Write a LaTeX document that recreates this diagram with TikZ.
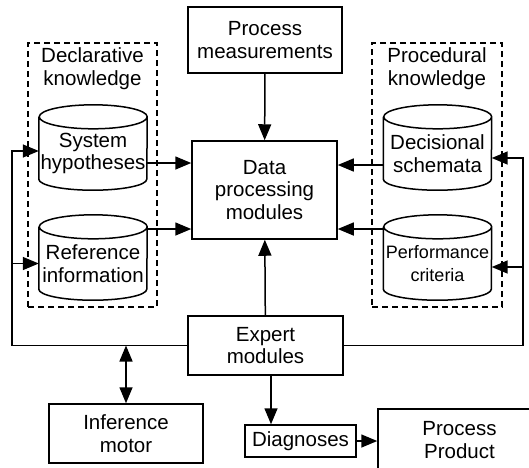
\documentclass[tikz,border=0pt]{standalone}
\usepackage{fontspec}
\setmainfont{Liberation Sans}
\usetikzlibrary{arrows.meta,positioning}

\tikzset{
  block/.style={draw=black,line width=1.5pt,align=center,inner sep=0pt,
    font=\fontsize{20.5}{22.5}\selectfont},
  store/.style={draw=none,align=center,inner sep=0pt,minimum width=108pt,
    minimum height=73pt,font=\fontsize{20.5}{22.5}\selectfont},
  group/.style={draw=black,line width=1.3pt,dash pattern=on 6pt off 4pt},
  tip/.tip={Triangle[length=16pt,width=13pt]},
  arr/.style={line width=1.5pt,-tip},
  dblarr/.style={line width=1.5pt,tip-tip},
}

\begin{document}
\begin{tikzpicture}[x=1pt,y=1pt]
    \useasboundingbox (0,0) rectangle (529,-467);
    \clip (0,0) rectangle (529,-467);

    % knowledge groups
    \node[group,minimum width=129pt,minimum height=264pt] (decl) at (92.5,-175) {};
    \node[group,minimum width=130pt,minimum height=264pt] (proc) at (437,-175) {};
    \node[block,draw=none,anchor=north] at ([yshift=-5pt]decl.north) {Declarative\\knowledge};
    \node[block,draw=none,anchor=north] at ([yshift=-5pt]proc.north) {Procedural\\knowledge};

    % data stores
    \node[store] (hyp) at (93,-153.5) {System\\hypotheses};
    \node[store] (ref) at (93,-263.5) {Reference\\information};
    \node[store] (dec) at (437.5,-153.5) {Decisional\\schemata};
    \node[store,font=\fontsize{18}{22.5}\selectfont] (perf) at (437.5,-263.5) {Performance\\criteria};
    \foreach \n in {hyp,ref,dec,perf}
      \draw[line width=1.5pt] (\n.north west) -- ([yshift=11pt]\n.south west)
        arc[start angle=180,end angle=360,x radius=54pt,y radius=11pt]
        -- (\n.north east)
        arc[start angle=0,end angle=360,x radius=54pt,y radius=12pt];

    % modules
    \node[block,minimum width=154pt,minimum height=66pt] (meas) at (265,-40) {Process\\measurements};
    \node[block,minimum width=145pt,minimum height=98pt] (data) at (264.5,-190) {Data\\processing\\modules};
    \node[block,minimum width=155pt,minimum height=59pt] (expert) at (265.5,-345.5) {Expert\\modules};
    \node[block,minimum width=154pt,minimum height=59pt] (infer) at (126,-433.5) {Inference\\motor};
    \node[block,minimum width=111pt,minimum height=32pt] (diag) at (300.5,-441) {Diagnoses};
    \node[block,minimum width=163pt,minimum height=62pt] (prod) at (459.5,-440) {Process\\Product};

    \coordinate (lrail) at (12,-345.5);
    \coordinate (rrail) at (523,-345.5);

    \draw[arr] (meas) -- (data);
    \draw[arr] (expert) -- (data);
    \draw[arr] ([yshift=-9.5pt]hyp.east) -- ([yshift=-9.5pt]hyp.east -| data.west);
    \draw[arr] ([yshift=34.5pt]ref.east) -- ([yshift=34.5pt]ref.east -| data.west);
    \draw[arr] ([yshift=-11.5pt]dec.west) -- ([yshift=-11.5pt]dec.west -| data.east);
    \draw[arr] ([yshift=34.5pt]perf.west) -- ([yshift=34.5pt]perf.west -| data.east);

    % feedback from the expert modules
    \draw[arr] (expert.west) -- (lrail) |- ([yshift=2.5pt]hyp.west);
    \draw[arr] (lrail |- ref.west) -- (ref.west);
    \draw[arr] (expert.east) -- (rrail) |- ([yshift=-4.5pt]dec.east);
    \draw[arr] ([yshift=-3.5pt]rrail |- perf.east) -- ([yshift=-3.5pt]perf.east);

    \draw[dblarr] (infer.north |- expert.west) -- (infer.north);
    \draw[arr] ([xshift=5.5pt]expert.south) -- ([xshift=5.5pt]expert.south |- diag.north);
    \draw[arr] (diag.east) -- (diag.east -| prod.west);
\end{tikzpicture}
\end{document}
